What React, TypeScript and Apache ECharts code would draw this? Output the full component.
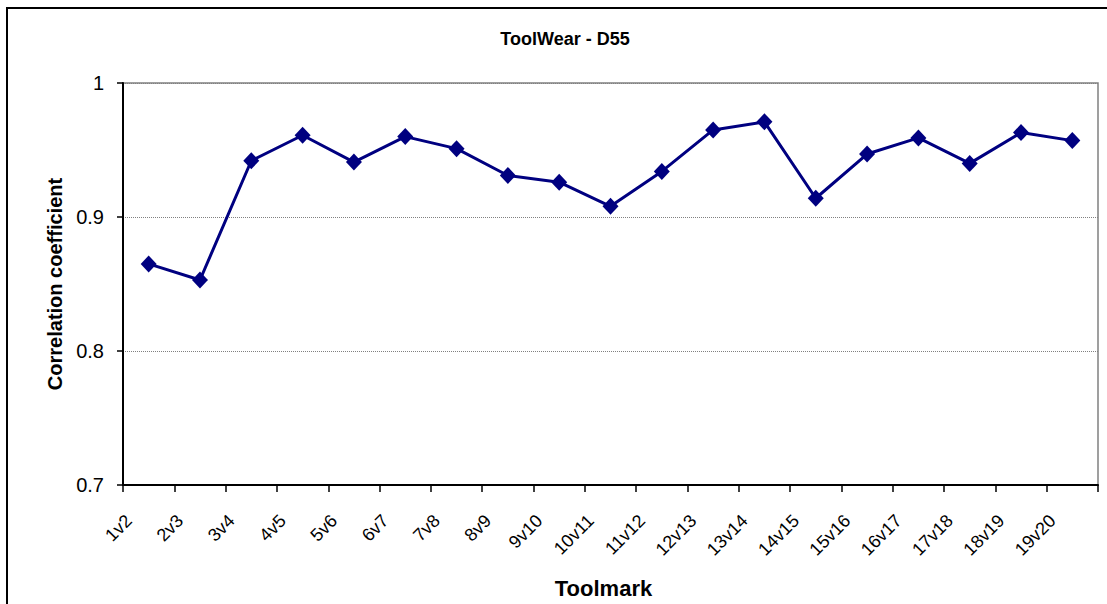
import React, { useEffect, useRef } from "react";
import * as echarts from "echarts";

const categories = [
  "1v2", "2v3", "3v4", "4v5", "5v6", "6v7", "7v8", "8v9", "9v10", "10v11",
  "11v12", "12v13", "13v14", "14v15", "15v16", "16v17", "17v18", "18v19", "19v20",
];
const correlation = [
  0.865, 0.853, 0.942, 0.961, 0.941, 0.96, 0.951, 0.931, 0.926, 0.908,
  0.934, 0.965, 0.971, 0.914, 0.947, 0.959, 0.94, 0.963, 0.957,
];
const chartTitle = "ToolWear - D55";
const xTitle = "Toolmark";
const yTitle = "Correlation coefficient";

const FONT = 'Arial, "Liberation Sans", sans-serif';

export default function App() {
  const ref = useRef<HTMLDivElement>(null);
  useEffect(() => {
    if (!ref.current) return;
    const chart = echarts.init(ref.current, undefined, { renderer: "svg" });
    chart.setOption({
      animation: false,
      backgroundColor: "#ffffff",
      title: {
        text: chartTitle,
        left: 565,
        textAlign: "center",
        top: 30,
        padding: 0,
        textStyle: { fontFamily: FONT, fontSize: 18, fontWeight: "bold", color: "#000" },
      },
      graphic: [
        {
          type: "rect",
          shape: { x: 7, y: 8, width: 1200, height: 700 },
          style: { fill: "none", stroke: "#000", lineWidth: 2 },
          silent: true,
        },
      ],
      grid: {
        left: 123,
        right: 9,
        top: 83,
        bottom: 119,
        show: true,
        borderColor: "#808080",
        borderWidth: 1.5,
        containLabel: false,
      },
      xAxis: {
        type: "category",
        data: categories,
        boundaryGap: true,
        name: xTitle,
        nameLocation: "middle",
        nameGap: 92,
        nameTextStyle: {
          fontFamily: FONT,
          fontSize: 22,
          fontWeight: "bold",
          color: "#000",
          padding: [0, 14, 0, 0],
        },
        axisLine: { lineStyle: { color: "#000", width: 2 } },
        axisTick: { show: true, length: 7, alignWithLabel: false, lineStyle: { color: "#000", width: 1.5 } },
        axisLabel: {
          interval: 0,
          rotate: 45,
          margin: 13,
          fontFamily: FONT,
          fontSize: 18,
          color: "#000",
          formatter: (v: string) => `{t|${v}}{s|\u00a0}`,
          rich: {
            t: { fontFamily: FONT, fontSize: 18, color: "#000" },
            s: { width: 28, fontFamily: FONT, fontSize: 18, color: "#000" },
          },
        },
        splitLine: { show: false },
      },
      yAxis: {
        type: "value",
        min: 0.7,
        max: 1,
        interval: 0.1,
        name: yTitle,
        nameLocation: "middle",
        nameRotate: 90,
        nameGap: 58,
        nameTextStyle: { fontFamily: FONT, fontSize: 20, fontWeight: "bold", color: "#000" },
        axisLine: { show: true, lineStyle: { color: "#000", width: 2 } },
        axisTick: { show: true, length: 6, lineStyle: { color: "#000", width: 1.5 } },
        axisLabel: {
          margin: 19,
          fontFamily: FONT,
          fontSize: 20,
          color: "#000",
          formatter: (v: number) => String(Math.round(v * 10) / 10),
        },
        splitLine: { show: true, lineStyle: { color: "#808080", width: 1, type: [1, 1] } },
      },
      series: [
        {
          type: "line",
          data: correlation,
          symbol: "diamond",
          symbolSize: [16, 17],
          lineStyle: { color: "#000080", width: 3 },
          itemStyle: { color: "#000080" },
        },
      ],
    });
    return () => chart.dispose();
  }, []);
  return (
    <div
      ref={ref}
      style={{ position: "absolute", left: 0, top: 0, width: 1107, height: 604 }}
    />
  );
}
